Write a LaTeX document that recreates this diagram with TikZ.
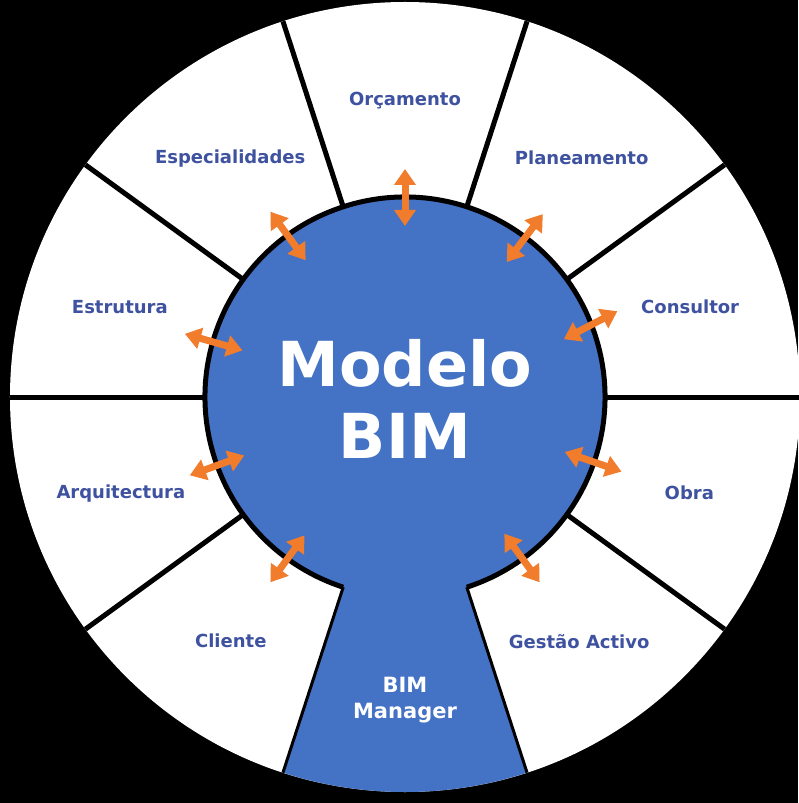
\documentclass[tikz,border=0pt]{standalone}
\usepackage{fontspec}
\setmainfont{DejaVu Sans}
\usetikzlibrary{arrows.meta}

\definecolor{bimblue}{RGB}{68,114,196}
\definecolor{lblblue}{RGB}{62,82,160}
\definecolor{arrorange}{RGB}{240,124,44}

\begin{document}
\begin{tikzpicture}[
    x=1pt, y=1pt,
    divider/.style={line width=5pt, draw=black},
    keyside/.style={line width=3pt, draw=black},
    rim/.style={line width=5pt, draw=black},
    seglbl/.style={font=\fontsize{18}{20}\selectfont\bfseries, text=lblblue},
    title/.style={font=\fontsize{62}{72}\selectfont\bfseries, text=white,
        align=center},
    mgr/.style={font=\fontsize{21}{26}\selectfont\bfseries, text=white,
        align=center},
    biarr/.style={{Triangle[width=21pt,length=16pt]}-{Triangle[width=21pt,length=16pt]},
        line width=7pt, draw=arrorange}
]

%% Background
\fill[black] (-405,-406) rectangle (393,397);
\useasboundingbox (-405,-406) rectangle (393,397);

%% Outer ring
\fill[white] (0,0) circle (395);

%% ── Dividers ─────────────────────────────────────────────────────
\draw[divider] (0,0) -- (0:395);
\draw[divider] (0,0) -- (36:395);
\draw[divider] (0,0) -- (72:395);
\draw[divider] (0,0) -- (108:395);
\draw[divider] (0,0) -- (144:395);
\draw[divider] (0,0) -- (180:395);
\draw[divider] (0,0) -- (216:395);
\draw[divider] (0,0) -- (324:395);

%% ── Central model with keyhole ──────────────────────────────────
\fill[bimblue] (-72:200) arc[start angle=-72, end angle=252, radius=200]
    -- (252:395) arc[start angle=252, end angle=288, radius=395] -- cycle;
\draw[rim] (-72:200) arc[start angle=-72, end angle=252, radius=200];
\draw[keyside] (252:200) -- (252:395);
\draw[keyside] (288:200) -- (288:395);

\node[title] (model) at (0,-2) {Modelo\\BIM};
\node[mgr] (manager) at (0,-303) {BIM\\Manager};

%% ── Segment labels ───────────────────────────────────────────────
\node[seglbl] (orc)  at (90:296)  {Orçamento};
\node[seglbl] (plan) at (53.5:297) {Planeamento};
\node[seglbl] (cons) at (17.5:299) {Consultor};
\node[seglbl] (obra) at (-18.6:300) {Obra};
\node[seglbl] (gest) at (-54.5:300) {Gestão Activo};
\node[seglbl] (cli)  at (234.5:300) {Cliente};
\node[seglbl] (arq)  at (198.7:300) {Arquitectura};
\node[seglbl] (estr) at (162.5:299) {Estrutura};
\node[seglbl] (esp)  at (126.2:296) {Especialidades};

%% ── Exchange arrows ──────────────────────────────────────────────
\coordinate (orc-in)  at (90:171);   \coordinate (orc-out)  at (90:228);
\coordinate (plan-in) at (53:169);   \coordinate (plan-out) at (53:229);
\coordinate (cons-in) at (20:169);   \coordinate (cons-out) at (22:229);
\coordinate (obra-in) at (341:169);  \coordinate (obra-out) at (341:229);
\coordinate (gest-in) at (306:169);  \coordinate (gest-out) at (306:229);
\coordinate (cli-in)  at (234:171);  \coordinate (cli-out)  at (234:229);
\coordinate (arq-in)  at (200:171);  \coordinate (arq-out)  at (200:229);
\coordinate (estr-in) at (164:169);  \coordinate (estr-out) at (164:229);
\coordinate (esp-in)  at (126:169);  \coordinate (esp-out)  at (126:229);

\draw[biarr] (orc-in)  -- (orc-out);
\draw[biarr] (plan-in) -- (plan-out);
\draw[biarr] (cons-in) -- (cons-out);
\draw[biarr] (obra-in) -- (obra-out);
\draw[biarr] (gest-in) -- (gest-out);
\draw[biarr] (cli-in)  -- (cli-out);
\draw[biarr] (arq-in)  -- (arq-out);
\draw[biarr] (estr-in) -- (estr-out);
\draw[biarr] (esp-in)  -- (esp-out);

\end{tikzpicture}
\end{document}
